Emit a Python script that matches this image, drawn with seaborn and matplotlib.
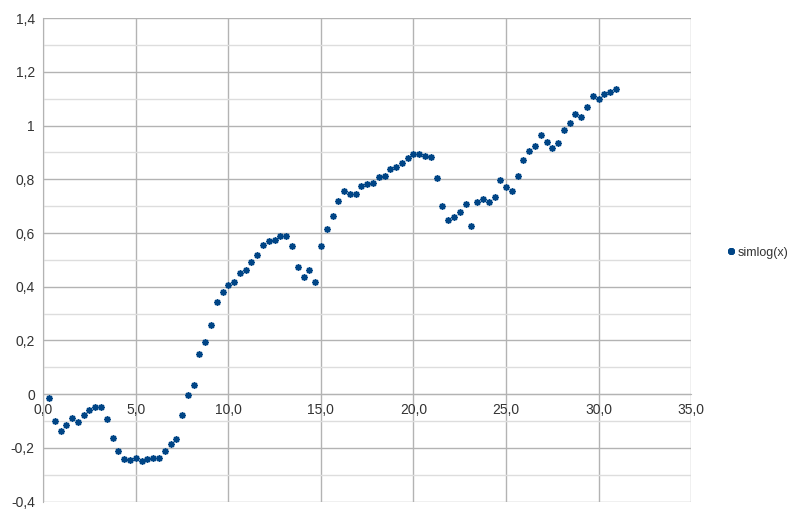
import matplotlib
matplotlib.use('Agg')
import matplotlib.pyplot as plt
import matplotlib.ticker as mticker
from matplotlib.lines import Line2D
import pandas as pd
import seaborn as sns

# 数据
x_vals = [0.31, 0.63, 0.94, 1.25, 1.56, 1.88, 2.19, 2.50, 2.81, 3.13,
          3.44, 3.75, 4.06, 4.38, 4.69, 5.00, 5.31, 5.63, 5.94, 6.25,
          6.56, 6.88, 7.19, 7.50, 7.81, 8.13, 8.44, 8.75, 9.06, 9.38,
          9.69, 10.00, 10.31, 10.63, 10.94, 11.25, 11.56, 11.88, 12.19, 12.50,
          12.81, 13.13, 13.44, 13.75, 14.06, 14.38, 14.69, 15.00, 15.31, 15.63,
          15.94, 16.25, 16.56, 16.88, 17.19, 17.50, 17.81, 18.13, 18.44, 18.75,
          19.06, 19.38, 19.69, 20.00, 20.31, 20.63, 20.94, 21.25, 21.56, 21.88,
          22.19, 22.50, 22.81, 23.13, 23.44, 23.75, 24.06, 24.38, 24.69, 25.00,
          25.31, 25.63, 25.94, 26.25, 26.56, 26.88, 27.19, 27.50, 27.81, 28.13,
          28.44, 28.75, 29.06, 29.38, 29.69, 30.00, 30.31, 30.63, 30.94]
y_vals = [-0.014, -0.098, -0.137, -0.114, -0.088, -0.104, -0.077, -0.060, -0.048, -0.047,
          -0.092, -0.165, -0.213, -0.242, -0.246, -0.237, -0.247, -0.241, -0.238, -0.238,
          -0.211, -0.184, -0.166, -0.077, -0.003, 0.036, 0.149, 0.193, 0.257, 0.344,
          0.379, 0.406, 0.418, 0.450, 0.461, 0.492, 0.520, 0.556, 0.571, 0.575,
          0.588, 0.590, 0.550, 0.472, 0.436, 0.463, 0.418, 0.550, 0.616, 0.663,
          0.720, 0.756, 0.744, 0.744, 0.775, 0.783, 0.787, 0.808, 0.812, 0.837,
          0.847, 0.862, 0.879, 0.894, 0.893, 0.886, 0.883, 0.804, 0.702, 0.647,
          0.658, 0.677, 0.709, 0.627, 0.714, 0.727, 0.715, 0.735, 0.797, 0.770,
          0.755, 0.814, 0.872, 0.904, 0.925, 0.966, 0.939, 0.917, 0.936, 0.984,
          1.009, 1.045, 1.031, 1.070, 1.111, 1.098, 1.116, 1.124, 1.137]
series_name = 'simlog(x)'

df = pd.DataFrame({'x': x_vals, 'y': y_vals})

sns.set_style('white')
plt.rcParams['font.family'] = ['Liberation Sans', 'DejaVu Sans']

fig = plt.figure(figsize=(8, 5.19), dpi=100)
ax = fig.add_axes([0.054, 0.0335, 0.81, 0.9315])

blue = '#004586'
star = (8, 2, 0)  # 星号标记
sns.scatterplot(data=df, x='x', y='y', color=blue,
                marker=star, s=14, linewidth=1.3, edgecolor=blue,
                ax=ax, legend=False, zorder=3)

ax.set_xlim(0, 35)
ax.set_ylim(-0.4, 1.4)

# 网格
ax.xaxis.set_major_locator(mticker.MultipleLocator(5))
ax.yaxis.set_major_locator(mticker.MultipleLocator(0.2))
ax.yaxis.set_minor_locator(mticker.MultipleLocator(0.1))
ax.grid(True, which='major', color='#b3b3b3', linewidth=1.0, zorder=0)
ax.grid(True, which='minor', axis='y', color='#dddddd', linewidth=1.0, zorder=0)
ax.set_axisbelow(True)

for s in ['top', 'right']:
    ax.spines[s].set_visible(False)
ax.spines['left'].set_color('#b3b3b3')
ax.spines['left'].set_position(('data', 0))
# x 轴画在 y=0 处
ax.spines['bottom'].set_position(('data', 0))
ax.spines['bottom'].set_color('#b3b3b3')

def y_fmt(v, pos):
    s = f'{v:.1f}'.rstrip('0').rstrip('.')
    if s == '-0':
        s = '0'
    return s.replace('.', ',')

ax.yaxis.set_major_formatter(mticker.FuncFormatter(y_fmt))
ax.xaxis.set_major_formatter(mticker.FuncFormatter(lambda v, p: f'{v:.1f}'.replace('.', ',')))

ax.tick_params(axis='both', which='major', length=4, color='#b3b3b3',
               labelsize=10, labelcolor='#333333', pad=2)
ax.tick_params(axis='y', which='minor', length=0)
ax.set_xlabel('')
ax.set_ylabel('')

# 图例放在右侧
handle = Line2D([], [], linestyle='none', marker=star, markersize=5,
                markeredgewidth=1.5, color=blue, label=series_name)
ax.legend(handles=[handle], loc='center left', bbox_to_anchor=(1.053, 0.515),
          frameon=False, fontsize=9, handlelength=0.8, handletextpad=0.2,
          borderaxespad=0, borderpad=0, labelcolor='#333333')

plt.savefig('out.png', dpi=100)
